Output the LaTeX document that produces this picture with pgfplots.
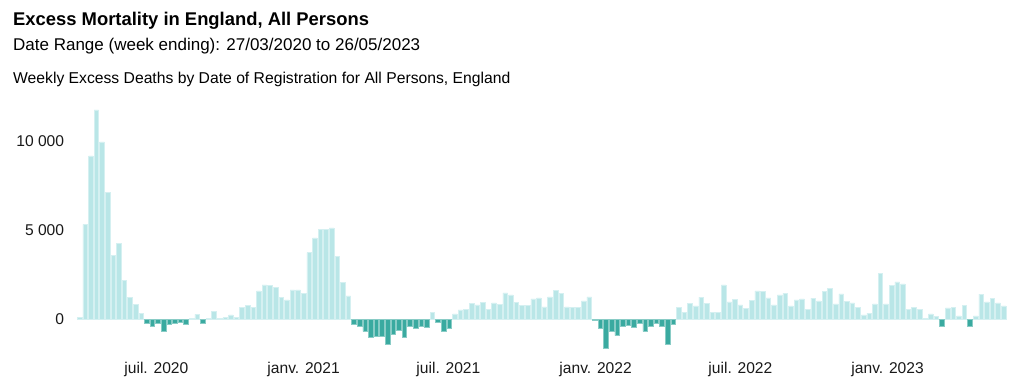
\documentclass[border=0pt]{standalone}
\usepackage{pgfplots}
\pgfplotsset{compat=1.18}
\usepackage{pgfplotstable}
\usepackage{fontspec}
\setmainfont{Liberation Sans}
\definecolor{poscol}{RGB}{185,230,231}
\definecolor{negcol}{RGB}{58,170,160}
\pgfplotstableread{
w v
0 120
1 5320
2 9170
3 11750
4 9960
5 7125
6 3590
7 4250
8 2200
9 1240
10 846
11 320
12 -245
13 -376
14 -245
15 -640
16 -300
17 -225
18 -170
19 -280
20 75
21 280
22 -225
23 50
24 430
25 75
26 95
27 245
28 110
29 660
30 770
31 680
32 1600
33 1940
34 1900
35 1800
36 1240
37 1090
38 1650
39 1650
40 1440
41 3740
42 4570
43 5040
44 5040
45 5130
46 3515
47 2090
48 1320
49 -265
50 -415
51 -680
52 -980
53 -940
54 -960
55 -1390
56 -850
57 -600
58 -1030
59 -375
60 -490
61 -360
62 -450
63 375
64 -150
65 -680
66 -525
67 300
68 525
69 565
70 885
71 810
72 950
73 580
74 920
75 850
76 1485
77 1370
78 960
79 790
80 770
81 1150
82 1200
83 700
84 1260
85 1635
86 1450
87 700
88 660
89 680
90 1035
91 1260
92 -60
93 -510
94 -1600
95 -660
96 -920
97 -375
98 -320
99 -470
100 -245
101 -680
102 -375
103 -245
104 -415
105 -1370
106 -300
107 680
108 375
109 885
110 750
111 1240
112 900
113 375
114 395
115 1935
116 980
117 1110
118 810
119 620
120 1070
121 1600
122 1560
123 1200
124 810
125 1370
126 1450
127 750
128 1090
129 1150
130 580
131 1185
132 1035
133 1580
134 1750
135 865
136 1430
137 1025
138 920
139 680
140 245
141 340
142 865
143 2560
144 865
145 1920
146 2105
147 1990
148 545
149 660
150 565
151 55
152 300
153 150
154 -360
155 640
156 660
157 190
158 790
159 -360
160 190
161 1410
162 980
163 1185
164 920
165 750
}\excess
\begin{document}
\begin{tikzpicture}
\useasboundingbox (0,0) rectangle (1019pt,390pt);
\node[anchor=base west, inner sep=0pt, font=\fontsize{18.4}{22}\selectfont\bfseries] at (13pt,364pt) {Excess Mortality in England, All Persons};
\node[anchor=base west, inner sep=0pt, font=\fontsize{17}{20}\selectfont] at (13pt,339pt) {Date Range (week ending): 27/03/2020 to 26/05/2023};
\node[anchor=base west, inner sep=0pt, font=\fontsize{15.7}{19}\selectfont] at (13pt,306.7pt) {Weekly Excess Deaths by Date of Registration for All Persons, England};
\begin{axis}[
  at={(76.8pt,35pt)}, anchor=south west,
  scale only axis, width=929.6pt, height=249.6pt,
  xmin=-0.5, xmax=165.5, ymin=-2000, ymax=12000,
  axis line style={draw=none}, tick style={draw=none},
  scaled y ticks=false,
  ytick={0,5000,10000}, yticklabels={0,5 000,10 000},
  xtick={13.71,40,65.86,92.14,118,144.29},
  xticklabels={juil. 2020,janv. 2021,juil. 2021,janv. 2022,juil. 2022,janv. 2023},
  ticklabel style={font=\fontsize{15.6}{18}\selectfont, text=black!90},
  yticklabel style={anchor=east, inner sep=0pt, xshift=-12.5pt},
  xticklabel style={anchor=base, inner sep=0pt, yshift=-19pt},
  clip=false,
]
\addplot[ybar, bar width=4.6pt, bar shift=0pt, fill=poscol, draw=poscol!60!white, line width=0.5pt, restrict y to domain=0:20000] table[x=w,y=v] {\excess};
\addplot[ybar, bar width=4.6pt, bar shift=0pt, fill=negcol, draw=negcol!60!white, line width=0.5pt, restrict y to domain=-5000:0] table[x=w,y=v] {\excess};
\end{axis}
\end{tikzpicture}
\end{document}
